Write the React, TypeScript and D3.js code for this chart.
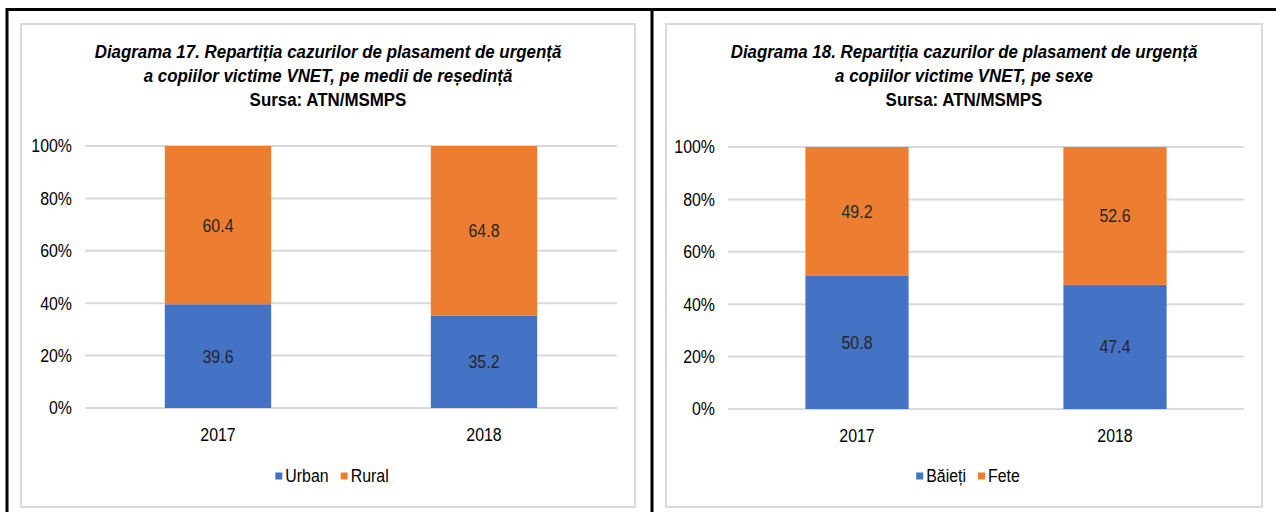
import React, { useEffect, useRef } from "react";
import * as d3 from "d3";

const years = ["2017", "2018"];
const urban = [39.6, 35.2];
const rural = [60.4, 64.8];
const boys = [50.8, 47.4];
const girls = [49.2, 52.6];
const yTicks = [0, 20, 40, 60, 80, 100];

const title17 = [
  "Diagrama 17. Repartiția cazurilor de plasament de urgență",
  "a copiilor victime VNET, pe medii de reședință",
  "Sursa: ATN/MSMPS",
];
const title18 = [
  "Diagrama 18. Repartiția cazurilor de plasament de urgență",
  "a copiilor victime VNET, pe sexe",
  "Sursa: ATN/MSMPS",
];

const BLUE = "#4472C4";
const ORANGE = "#ED7D31";
const GRID = "#D9D9D9";
const FONT = "'Liberation Sans', Arial, sans-serif";
const SX = 0.86;

type Cfg = {
  frame: [number, number, number, number];
  x0: number; x1: number; yTop: number; yBot: number;
  tickRight: number; cx: number;
  title: string[];
  names: [string, string];
  a: number[]; b: number[];
};

const charts: Cfg[] = [
  {
    frame: [21, 24, 614, 483], x0: 85, x1: 617, yTop: 146, yBot: 408, tickRight: 72, cx: 328,
    title: title17, names: ["Urban", "Rural"], a: urban, b: rural,
  },
  {
    frame: [666, 24, 596, 483], x0: 728, x1: 1244, yTop: 147, yBot: 409, tickRight: 715, cx: 964,
    title: title18, names: ["Băieți", "Fete"], a: boys, b: girls,
  },
];

type Sel = d3.Selection<SVGGElement, unknown, null, undefined>;

function narrowText(g: Sel, x: number, y: number, txt: string, anchor: string, size: number, fill: string, sx = SX) {
  return g.append("text")
    .attr("transform", `translate(${x},${y}) scale(${sx},1)`)
    .attr("dy", "0.35em")
    .attr("text-anchor", anchor)
    .attr("font-size", size)
    .attr("fill", fill)
    .text(txt);
}

export default function App() {
  const ref = useRef<SVGSVGElement>(null);
  useEffect(() => {
    const svg = d3.select(ref.current);
    svg.selectAll("*").remove();
    svg.append("rect").attr("width", 1276).attr("height", 512).attr("fill", "#fff");

    charts.forEach((c) => {
      const g = svg.append("g").attr("font-family", FONT) as unknown as Sel;
      g.append("rect")
        .attr("x", c.frame[0]).attr("y", c.frame[1])
        .attr("width", c.frame[2]).attr("height", c.frame[3])
        .attr("fill", "#fff").attr("stroke", GRID).attr("stroke-width", 2);

      c.title.forEach((t, i) => {
        g.append("text")
          .attr("transform", `translate(${c.cx},${58 + i * 24}) scale(0.89,1)`)
          .attr("text-anchor", "middle")
          .attr("font-size", 19).attr("font-weight", "bold")
          .attr("font-style", i < 2 ? "italic" : "normal")
          .attr("fill", "#000")
          .text(t);
      });

      const x = d3.scaleBand<string>().domain(years).range([c.x0, c.x1]).paddingInner(0.6).paddingOuter(0.3);
      const y = d3.scaleLinear().domain([0, 100]).range([c.yBot, c.yTop]);

      yTicks.forEach((t) => {
        g.append("line")
          .attr("x1", c.x0).attr("x2", c.x1)
          .attr("y1", y(t)).attr("y2", y(t))
          .attr("stroke", GRID).attr("stroke-width", 2);
        narrowText(g, c.tickRight, y(t), d3.format("d")(t) + "%", "end", 18.5, "#000");
      });

      years.forEach((yr, i) => {
        const bx = x(yr)!;
        const bw = x.bandwidth();
        const a = c.a[i], b = c.b[i];
        g.append("rect").attr("x", bx).attr("width", bw)
          .attr("y", y(a)).attr("height", y(0) - y(a)).attr("fill", BLUE);
        g.append("rect").attr("x", bx).attr("width", bw)
          .attr("y", y(a + b)).attr("height", y(a) - y(a + b)).attr("fill", ORANGE);
        narrowText(g, bx + bw / 2, y(a / 2), a.toFixed(1), "middle", 18.5, "#262626");
        narrowText(g, bx + bw / 2, y(a + b / 2), b.toFixed(1), "middle", 18.5, "#262626");
        narrowText(g, bx + bw / 2, c.yBot + 27, yr, "middle", 18.5, "#000");
      });

      const lg = g.append("g");
      const colors = [BLUE, ORANGE];
      let cur = 0;
      c.names.forEach((n, i) => {
        lg.append("rect").attr("x", cur).attr("y", 476 - 3.5).attr("width", 7).attr("height", 7).attr("fill", colors[i]);
        const t = (lg as unknown as Sel).append("text")
          .attr("transform", `translate(${cur + 10},476) scale(${SX},1)`)
          .attr("dy", "0.35em").attr("font-size", 18.5).attr("fill", "#000").text(n);
        const w = (t.node() as SVGTextElement).getComputedTextLength() * SX;
        cur += 10 + w + 12;
      });
      const total = cur - 12;
      lg.attr("transform", `translate(${c.cx + 4 - total / 2},0)`);
    });

    svg.append("line").attr("x1", 6).attr("x2", 1276).attr("y1", 9.5).attr("y2", 9.5).attr("stroke", "#000").attr("stroke-width", 3);
    svg.append("line").attr("x1", 7).attr("x2", 7).attr("y1", 8).attr("y2", 512).attr("stroke", "#000").attr("stroke-width", 3);
    svg.append("line").attr("x1", 652).attr("x2", 652).attr("y1", 8).attr("y2", 512).attr("stroke", "#000").attr("stroke-width", 3);
  }, []);
  return (
    <svg ref={ref} width={1276} height={512} style={{ position: "absolute", left: 0, top: 0, display: "block" }} />
  );
}
